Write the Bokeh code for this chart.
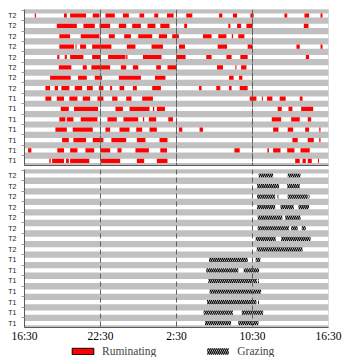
from bokeh.plotting import figure
from bokeh.models import Range1d, FixedTicker, Legend, LegendItem, Span, ColumnDataSource
from bokeh.layouts import column
from bokeh.embed import file_html
from bokeh.resources import INLINE

# hours after 16:30
hour_ticks = [0, 6, 12, 18, 24]
hour_labels = ["16:30", "22:30", "2:30", "10:30", "16:30"]
guide_hours = [6, 12, 18]
row_labels = ["T2"] * 8 + ["T1"] * 7
legend_labels = ["Ruminating", "Grazing"]

ruminating = [
    [(0.81, 0.91), (3.12, 3.34), (3.60, 4.86), (5.39, 5.92), (6.39, 7.13), (7.77, 8.24), (9.08, 9.45), (10.24, 10.56), (11.25, 11.77), (12.77, 13.25), (15.36, 15.62), (16.46, 16.78), (17.83, 18.09), (20.52, 20.74), (22.10, 22.47), (23.37, 23.53)],
    [(2.55, 4.13), (4.65, 5.55), (5.92, 6.76), (7.45, 8.03), (8.50, 9.19), (9.71, 10.34), (10.72, 11.45), (12.61, 12.83), (16.09, 16.25), (16.78, 17.10), (17.52, 17.99), (22.05, 22.42)],
    [(2.75, 3.60), (4.44, 5.92), (6.66, 7.13), (7.87, 8.40), (8.98, 10.08), (10.61, 11.25), (11.66, 12.19), (14.09, 14.77), (15.30, 15.94), (16.37, 16.47), (16.88, 17.36)],
    [(2.75, 3.91), (4.03, 4.11), (4.39, 4.86), (5.34, 6.86), (8.08, 8.76), (10.03, 10.93), (12.19, 12.67), (15.25, 15.99), (17.62, 17.99), (21.47, 21.73), (23.37, 23.53)],
    [(2.59, 2.75), (3.18, 3.34), (3.60, 4.65), (5.34, 5.97), (6.60, 7.97), (8.03, 8.13), (9.35, 10.82), (12.04, 12.72), (14.35, 14.77), (15.94, 16.35), (17.04, 17.62), (22.21, 22.47)],
    [(2.71, 3.70), (4.60, 4.92), (5.28, 6.76), (7.61, 8.03), (8.56, 8.98), (10.40, 10.77), (11.29, 11.98), (15.20, 15.67), (16.65, 16.73), (17.10, 17.52)],
    [(2.02, 3.65), (4.23, 4.92), (5.55, 6.13), (7.45, 9.19), (10.30, 11.13), (16.15, 16.51), (16.94, 17.20)],
    [(1.65, 2.02), (2.39, 2.65), (2.91, 3.54), (3.97, 4.55), (4.92, 5.39), (5.87, 6.23), (6.76, 6.92), (7.50, 7.87), (8.56, 8.87), (10.08, 10.77), (13.78, 13.98), (15.14, 15.46), (16.15, 16.35), (16.99, 17.62)],
    [(1.65, 2.12), (2.55, 3.12), (3.54, 4.18), (4.60, 5.18), (5.76, 6.23), (6.92, 7.34), (8.03, 8.45), (9.29, 10.14), (17.78, 18.31), (18.74, 18.82), (19.15, 19.57), (20.15, 20.62), (21.73, 21.95)],
    [(2.86, 3.50), (3.91, 5.81), (7.18, 7.77), (8.29, 9.87), (10.14, 10.24), (10.45, 11.09), (19.99, 20.31), (20.84, 21.15), (21.84, 22.79)],
    [(2.75, 3.23), (3.34, 3.86), (4.44, 5.76), (6.55, 7.29), (7.81, 8.98), (9.35, 9.45), (9.82, 10.40), (11.35, 11.72), (19.52, 20.26), (21.05, 21.73), (22.36, 22.63)],
    [(2.44, 3.34), (3.81, 5.39), (6.39, 6.76), (7.50, 8.29), (8.82, 9.29), (9.87, 10.45), (12.19, 12.46), (13.82, 14.09), (19.63, 20.05), (20.78, 21.21), (22.16, 22.47), (23.27, 23.37)],
    [(2.97, 3.50), (3.86, 4.86), (5.39, 6.23), (6.86, 8.03), (8.87, 9.55), (10.66, 11.29), (21.15, 21.57), (22.36, 22.84), (23.27, 23.37)],
    [(0.28, 0.54), (2.59, 3.12), (3.60, 4.18), (4.81, 5.50), (6.03, 6.76), (7.34, 7.66), (8.76, 9.82), (10.72, 11.25), (16.57, 16.99), (19.18, 19.30), (19.63, 20.21), (20.74, 21.31), (21.79, 22.52)],
    [(1.96, 2.07), (2.18, 3.12), (3.28, 3.50), (3.60, 5.12), (6.03, 7.55), (8.87, 9.45), (10.45, 11.29), (21.37, 21.73), (21.95, 22.21), (22.36, 22.68), (23.17, 23.25)],
]

grazing = [
    [(18.49, 19.63), (20.78, 21.79)],
    [(18.36, 20.10), (20.74, 21.73)],
    [(18.36, 19.79), (19.97, 20.05), (20.78, 22.36), (22.42, 22.50)],
    [(18.36, 19.79), (20.21, 21.26), (21.63, 22.47)],
    [(18.41, 20.36), (20.58, 21.79)],
    [(18.41, 20.89), (21.05, 21.57), (21.89, 22.21)],
    [(18.25, 19.83), (20.26, 22.58)],
    [(18.33, 21.95)],
    [(14.57, 17.62), (18.25, 18.62)],
    [(14.35, 16.88), (17.30, 18.52)],
    [(14.51, 18.36), (18.43, 18.51)],
    [(14.61, 18.68)],
    [(14.41, 18.31), (18.43, 18.51)],
    [(14.14, 16.46), (17.15, 18.84)],
    [(14.25, 16.31), (16.88, 18.47)],
]

n = len(row_labels)
row_y = [n - 1 - i for i in range(n)]
GRAY = "#c0c0c0"
AXIS = "#5a5a5a"
BAND = 0.4
RUM_STYLE = dict(fill_color="#ff0000")
GRAZE_STYLE = dict(fill_color="white", hatch_pattern="\\", hatch_color="black",
                   hatch_scale=4, hatch_weight=1.3)


def seg_source(rows):
    left, right, y = [], [], []
    for i, segs in enumerate(rows):
        for s, e in segs:
            left.append(s)
            right.append(e)
            y.append(n - 1 - i)
    return ColumnDataSource(dict(left=left, right=right, y=y))


def make_panel(height, y_start, y_end, min_top, min_bottom, dash, xticks):
    p = figure(width=351, height=height, x_range=Range1d(0, 24),
               y_range=Range1d(y_start, y_end), output_backend="svg",
               toolbar_location=None, min_border_left=24, min_border_right=23,
               min_border_top=min_top, min_border_bottom=min_bottom)
    p.background_fill_color = GRAY
    p.border_fill_color = "white"
    p.outline_line_color = "#d4d4d4"
    p.grid.visible = False
    p.hbar(y=row_y, left=0, right=24, height=BAND, fill_color="white", line_color=None)
    for h in guide_hours:
        p.add_layout(Span(location=h, dimension="height", line_color="#606060",
                          line_width=1, line_dash=dash, level="glyph"))
    yax = p.yaxis[0]
    yax.ticker = FixedTicker(ticks=row_y, minor_ticks=[y + 0.5 for y in row_y])
    yax.major_label_overrides = {y: lab for y, lab in zip(row_y, row_labels)}
    yax.major_label_text_font = "Liberation Sans"
    yax.major_label_text_font_size = "7px"
    yax.major_label_text_color = "#222222"
    yax.major_label_standoff = 5
    yax.major_tick_out = 0
    yax.major_tick_in = 0
    yax.minor_tick_out = 3
    yax.minor_tick_in = 0
    yax.minor_tick_line_color = "#9a9a9a"
    yax.axis_line_color = AXIS
    xax = p.xaxis[0]
    xax.ticker = FixedTicker(ticks=xticks)
    xax.major_label_overrides = {t: lab for t, lab in zip(hour_ticks, hour_labels)}
    xax.axis_line_color = AXIS
    xax.major_tick_out = 0
    xax.major_tick_in = 0
    xax.minor_tick_line_color = None
    return p


# top panel: rumination (axis line only, no tick labels)
p1 = make_panel(169, -0.45, n - 1 + 0.58, 9, 4, "8 1", [])
p1.xaxis[0].major_label_standoff = 0
p1.hbar(y="y", left="left", right="right", height=BAND, source=seg_source(ruminating),
        line_color=None, **RUM_STYLE)

# bottom panel: grazing
p2 = make_panel(175, -0.41, n - 1 + 0.57, 0, 16, "5 3", hour_ticks)
p2.hbar(y="y", left="left", right="right", height=BAND, source=seg_source(grazing),
        line_color=None, **GRAZE_STYLE)
xax = p2.xaxis[0]
xax.major_label_text_font = "Liberation Serif"
xax.major_label_text_font_size = "11.5px"
xax.major_label_text_color = "black"
xax.major_label_standoff = 2

# legend strip
p3 = figure(width=351, height=13, x_range=Range1d(0, 1), y_range=Range1d(0, 1),
            output_backend="svg", toolbar_location=None, min_border=0,
            x_axis_location=None, y_axis_location=None)
p3.outline_line_color = None
p3.grid.visible = False
key_rum = p3.hbar(y=[0], left=[0], right=[0], height=0, line_color="black",
                  line_width=1, **RUM_STYLE)
key_graze = p3.hbar(y=[0], left=[0], right=[0], height=0, line_color=None, **GRAZE_STYLE)
legend = Legend(items=[LegendItem(label=legend_labels[0], renderers=[key_rum]),
                       LegendItem(label=legend_labels[1], renderers=[key_graze])],
                orientation="horizontal", location=(45, 0), padding=0, margin=0,
                spacing=48, glyph_width=27, glyph_height=8, label_standoff=6,
                label_text_font="Liberation Serif", label_text_font_size="11.5px",
                label_height=11, border_line_color=None, background_fill_alpha=0)
p3.add_layout(legend)

layout = column(p1, p2, p3, spacing=0)
open("out.html", "w").write(file_html(layout, INLINE))
